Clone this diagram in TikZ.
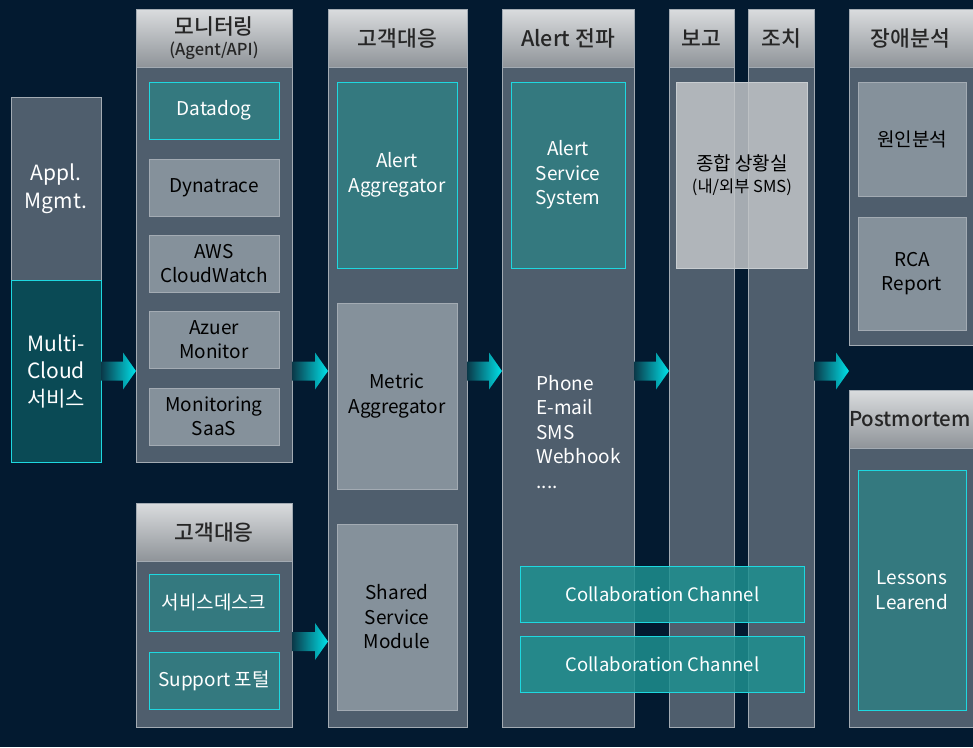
\documentclass[tikz,border=0pt]{standalone}
\usepackage{fontspec}
\setmainfont{Noto Sans CJK KR}
\newfontfamily\headfont{Noto Sans CJK KR Medium}
\usetikzlibrary{calc}

\definecolor{bgnavy}{HTML}{031A30}
\definecolor{slate}{HTML}{4F5E6D}
\definecolor{edgegray}{HTML}{A3ABB3}
\definecolor{tealfill}{HTML}{34797F}
\definecolor{darkteal}{HTML}{0A4A55}
\definecolor{cyanline}{HTML}{1ED8E0}
\definecolor{grayfill}{HTML}{85919B}
\definecolor{headtop}{HTML}{DADCDE}
\definecolor{headbot}{HTML}{8F9499}
\definecolor{collab}{HTML}{1E9090}
\definecolor{glassfill}{HTML}{C2C5C8}
\definecolor{arrowdark}{HTML}{0A3848}
\definecolor{arrowcyan}{HTML}{00E2EA}

\tikzstyle {colbody} = [draw=edgegray, line width=1pt, fill=slate, anchor=north west, inner sep=0pt, outer sep=0pt]
\tikzstyle {colhead} = [draw=edgegray, line width=1pt, top color=headtop, bottom color=headbot, anchor=north west, inner sep=0pt, outer sep=0pt, align=center, text=black!85, font=\headfont\fontsize{21.5}{25}\selectfont]
\tikzstyle {tealbox} = [draw=cyanline, line width=1pt, fill=tealfill, anchor=north west, inner sep=0pt, outer sep=0pt, align=center, text=white, font=\fontsize{19}{24.5}\selectfont]
\tikzstyle {graybox} = [draw=edgegray, line width=1pt, fill=grayfill, anchor=north west, inner sep=0pt, outer sep=0pt, align=center, text=black, font=\fontsize{19}{24.5}\selectfont]
\tikzstyle {glassbox} = [draw=edgegray!60, line width=0.8pt, fill=glassfill, fill opacity=0.85, text opacity=1, anchor=north west, inner sep=0pt, align=center, text=black, font=\fontsize{19}{22}\selectfont]
\tikzstyle {collabbox} = [draw=cyanline, line width=1pt, fill=collab, fill opacity=0.85, text opacity=1, anchor=north west, inner sep=0pt, align=center, text=white, font=\fontsize{18.5}{22}\selectfont]
\tikzstyle {arrowfill} = [left color=arrowdark, right color=arrowcyan]

% block arrow between two columns, at the height of the first point
\newcommand{\flowarrow}[2]{%
  \path[arrowfill] let \p1=(#1), \p2=(#2) in
    (\x1,\y1+9.5pt) -- (\x2-13pt,\y1+9.5pt) -- (\x2-13pt,\y1+18.5pt) -- (\x2,\y1)
    -- (\x2-13pt,\y1-18.5pt) -- (\x2-13pt,\y1-9.5pt) -- (\x1,\y1-9.5pt) -- cycle;}

\begin{document}
\begin{tikzpicture}[x=1pt, y=-1pt]
  \useasboundingbox (0,0) rectangle (973,747);
  \clip (0,0) rectangle (973,747);
  \fill[bgnavy] (0,0) rectangle (973,747);

  % source
  \node[colbody, minimum width=90pt, minimum height=183pt, align=center, text=white, font=\fontsize{21}{28}\selectfont] (appl) at (11,97) {Appl.\\Mgmt.};
  \node[colbody, fill=darkteal, draw=cyanline, minimum width=90pt, minimum height=182pt, align=center, text=white, font=\fontsize{21}{27.5}\selectfont] (multi) at (11,280) {Multi-\\Cloud\\서비스};

  % monitoring
  \node[colbody, minimum width=156pt, minimum height=395pt] (monbody) at (136,67) {};
  \node[colhead, minimum width=156pt, minimum height=58pt] (monhead) at (136,9) {모니터링\\[-4pt]{\fontsize{16.5}{19}\selectfont(Agent/API)}};
  \node[tealbox, minimum width=130pt, minimum height=57pt] (datadog) at (149,82) {Datadog};
  \node[graybox, minimum width=130pt, minimum height=57pt] (dynatrace) at (149,159) {Dynatrace};
  \node[graybox, minimum width=130pt, minimum height=57pt] (cloudwatch) at (149,235) {AWS\\CloudWatch};
  \node[graybox, minimum width=130pt, minimum height=57pt] (azure) at (149,311) {Azuer\\Monitor};
  \node[graybox, minimum width=130pt, minimum height=57pt] (saas) at (149,388) {Monitoring\\SaaS};

  % customer desk
  \node[colbody, minimum width=156pt, minimum height=166pt] (csbody) at (136,561) {};
  \node[colhead, minimum width=156pt, minimum height=58pt] (cshead) at (136,503) {고객대응};
  \node[tealbox, minimum width=130pt, minimum height=57pt] (desk) at (149,574) {서비스데스크};
  \node[tealbox, minimum width=130pt, minimum height=57pt] (portal) at (149,652) {Support 포털};

  % aggregation
  \node[colbody, minimum width=139pt, minimum height=660pt] (aggbody) at (328,67) {};
  \node[colhead, minimum width=139pt, minimum height=58pt] (agghead) at (328,9) {고객대응};
  \node[tealbox, minimum width=120pt, minimum height=186pt] (alertagg) at (337,82) {Alert\\Aggregator};
  \node[graybox, minimum width=120pt, minimum height=186pt] (metricagg) at (337,303) {Metric\\Aggregator};
  \node[graybox, minimum width=120pt, minimum height=186pt] (shared) at (337,524) {Shared\\Service\\Module};

  % alert propagation
  \node[colbody, minimum width=132pt, minimum height=660pt] (alertbody) at (502,67) {};
  \node[colhead, minimum width=132pt, minimum height=58pt] (alerthead) at (502,9) {Alert 전파};
  \node[tealbox, minimum width=114pt, minimum height=186pt] (alertsvc) at (511,82) {Alert\\Service\\System};
  \node[anchor=west, align=left, text=white, font=\fontsize{19}{24.5}\selectfont] (channels) at (533,432) {Phone\\E-mail\\SMS\\Webhook\\....};

  % report / action
  \node[colbody, minimum width=65pt, minimum height=660pt] (reportbody) at (669,67) {};
  \node[colhead, minimum width=65pt, minimum height=58pt] (reporthead) at (669,9) {보고};
  \node[colbody, minimum width=66pt, minimum height=660pt] (actionbody) at (748,67) {};
  \node[colhead, minimum width=66pt, minimum height=58pt] (actionhead) at (748,9) {조치};
  \node[glassbox, minimum width=131pt, minimum height=186pt] (situation) at (676,82) {종합 상황실\\{\fontsize{16.5}{19}\selectfont(내/외부 SMS)}};

  % analysis
  \node[colbody, minimum width=131pt, minimum height=278pt] (rcabody) at (849,67) {};
  \node[colhead, minimum width=131pt, minimum height=58pt] (rcahead) at (849,9) {\hspace*{-8pt}장애분석};
  \node[graybox, minimum width=108pt, minimum height=114pt] (cause) at (858,82) {원인분석};
  \node[graybox, minimum width=108pt, minimum height=113pt] (report) at (858,217) {RCA\\Report};
  \node[colbody, minimum width=131pt, minimum height=279pt] (pmbody) at (849,448) {};
  \node[colhead, minimum width=131pt, minimum height=58pt, font=\headfont\fontsize{20.5}{24}\selectfont] (pmhead) at (849,390) {\hspace*{-9pt}Postmortem};
  \node[tealbox, minimum width=108pt, minimum height=240pt] (lessons) at (858,470) {Lessons\\Learend};

  % collaboration
  \node[collabbox, minimum width=284pt, minimum height=56pt] (collab1) at (520,566) {Collaboration Channel};
  \node[collabbox, minimum width=284pt, minimum height=56pt] (collab2) at (520,636) {Collaboration Channel};

  % flow
  \coordinate (csmid) at ($(desk.south)!0.5!(portal.north)$);
  \flowarrow{multi.east}{monbody.west |- multi.east}
  \flowarrow{monbody.east |- multi.east}{aggbody.west |- multi.east}
  \flowarrow{csbody.east |- csmid}{aggbody.west |- csmid}
  \flowarrow{aggbody.east |- multi.east}{alertbody.west |- multi.east}
  \flowarrow{alertbody.east |- multi.east}{reportbody.west |- multi.east}
  \flowarrow{actionbody.east |- multi.east}{rcabody.west |- multi.east}
\end{tikzpicture}
\end{document}
